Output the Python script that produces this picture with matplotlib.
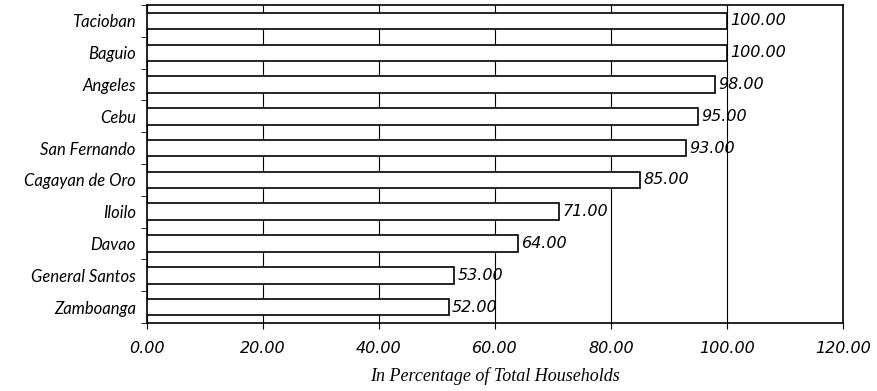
import numpy as np
import matplotlib.pyplot as plt

cities = ['Tacioban', 'Baguio', 'Angeles', 'Cebu', 'San Fernando',
          'Cagayan de Oro', 'Iloilo', 'Davao', 'General Santos', 'Zamboanga']
values = [100.00, 100.00, 98.00, 95.00, 93.00, 85.00, 71.00, 64.00, 53.00, 52.00]
xticks = [0, 20, 40, 60, 80, 100, 120]

fig = plt.figure(figsize=(8.78, 3.91), dpi=100)
ax = fig.add_axes([0.1674, 0.174, 0.7926, 0.813])

y = np.arange(len(cities))[::-1]
ax.barh(y, values, height=0.52, color='white', edgecolor='black', linewidth=1.2, zorder=3)

for yi, v in zip(y, values):
    ax.text(v + 0.6, yi, f'{v:.2f}', va='center', ha='left', fontsize=11.5,
            style='italic', family='DejaVu Sans', zorder=4)

ax.set_xlim(0, 120)
ax.set_ylim(-0.5, len(cities) - 0.5)
ax.set_xticks(xticks)
ax.set_xticklabels([f'{t:.2f}' for t in xticks], fontsize=11.5, style='italic')
ax.set_yticks(y)
ax.set_yticklabels(cities, fontsize=12, style='italic', family='Lato')
ax.tick_params(axis='y', length=0, pad=8)
ax.set_yticks(np.arange(-0.5, len(cities), 1), minor=True)
ax.tick_params(axis='y', which='minor', length=4, direction='out')
ax.tick_params(axis='x', length=4, direction='out', pad=9)
ax.grid(axis='x', color='black', linewidth=0.8, zorder=0)

for s in ax.spines.values():
    s.set_linewidth(1.2)

ax.set_xlabel('In Percentage of Total Households', fontsize=13, style='italic',
              family='Liberation Serif', labelpad=8)

fig.savefig('out.png', dpi=100)
